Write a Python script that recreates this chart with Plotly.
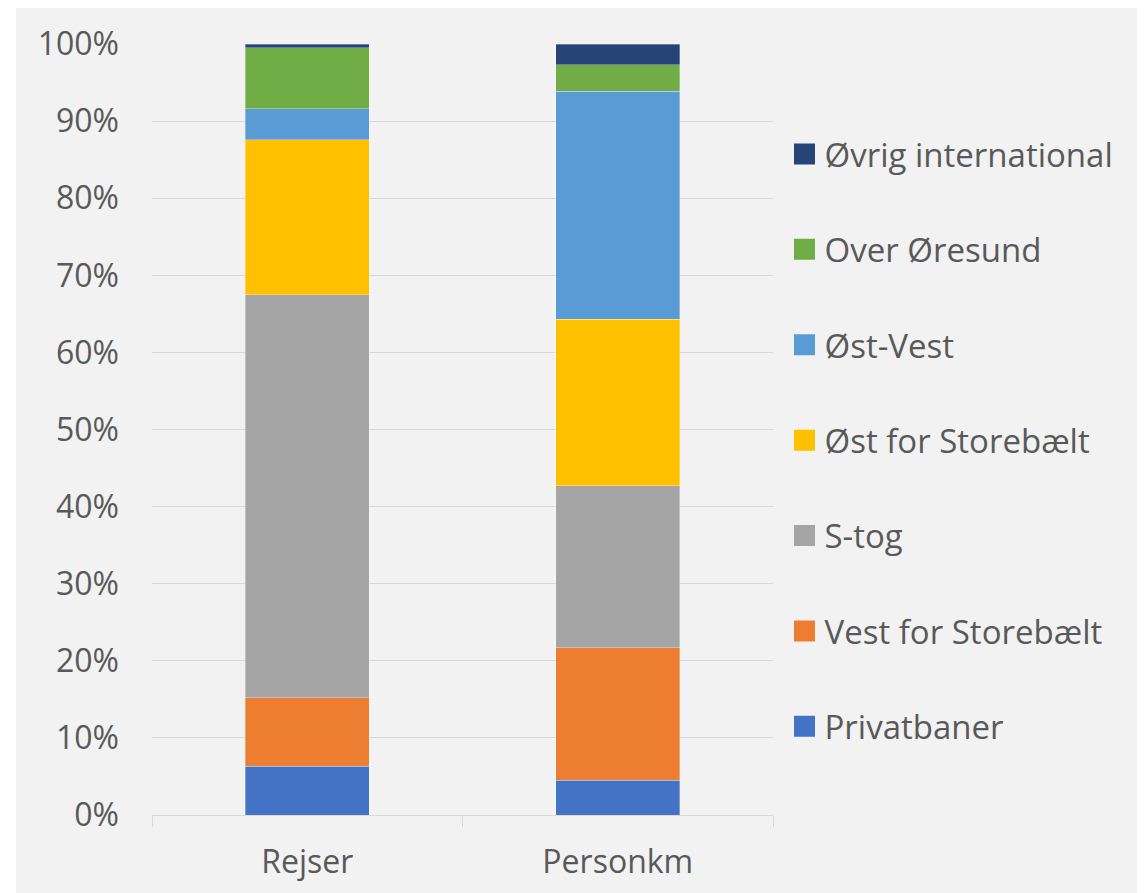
import plotly.graph_objects as go

categories = ["Rejser", "Personkm"]
series_names = ["Privatbaner", "Vest for Storebælt", "S-tog", "Øst for Storebælt",
                "Øst-Vest", "Over Øresund", "Øvrig international"]
privatbaner = [6.3, 4.5]
vest_for_storebaelt = [8.9, 17.2]
s_tog = [52.3, 21.0]
oest_for_storebaelt = [20.1, 21.6]
oest_vest = [4.0, 29.6]
over_oeresund = [7.9, 3.4]
oevrig_international = [0.5, 2.7]
series_values = [privatbaner, vest_for_storebaelt, s_tog, oest_for_storebaelt,
                 oest_vest, over_oeresund, oevrig_international]
colors = ["#4472C4", "#ED7D31", "#A5A5A5", "#FFC000", "#5B9BD5", "#70AD47", "#264478"]
y_ticks = list(range(0, 101, 10))
y_tick_labels = [f"{v}%" for v in y_ticks]

# page body has an 8px margin, so figure coordinates are offset by 8px
OFF = 8
W, H = 1145 - OFF, 893 - OFF
L, R, T, B = 152 - OFF, 773 - OFF, 44 - OFF, 815 - OFF
FONT = "Open Sans"
TXT = "#595959"

fig = go.Figure()
for name, vals, col in zip(series_names, series_values, colors):
    fig.add_trace(go.Bar(x=categories, y=vals, name=name, marker_color=col,
                         marker_line=dict(width=0.7, color="rgba(255,255,255,0.45)"),
                         showlegend=False, hoverinfo="x+y+name"))

# legend proxies (top to bottom order)
for i, (name, col) in enumerate(reversed(list(zip(series_names, colors)))):
    fig.add_trace(go.Scatter(x=[None], y=[None], mode="markers", name=name,
                             legendgroup=f"g{i}",
                             marker=dict(symbol="square", size=16, color=col,
                                         line=dict(color=col, width=5))))

pw = R - L
ph = B - T
def px_x(p):
    return (p - L) / pw
def px_y(p):
    return (B - p) / ph

# extra white strip on the left edge (reference has 16px white border at left)
fig.add_shape(type="rect", xref="paper", yref="paper", x0=px_x(-5), x1=px_x(8),
              y0=px_y(H + 5), y1=px_y(-5), fillcolor="white", line_width=0, layer="below")

fig.update_layout(
    width=W, height=H,
    margin=dict(l=L, r=W - R, t=T, b=H - B, pad=0),
    paper_bgcolor="#F2F2F2", plot_bgcolor="#F2F2F2",
    barmode="stack", bargap=0.6,
    font=dict(family=FONT, size=32, color=TXT),
    legend=dict(x=px_x(784.5 - OFF), xanchor="left", y=px_y(440.5 - OFF), yanchor="middle",
                traceorder="grouped", tracegroupgap=49.5, itemsizing="trace",
                bgcolor="rgba(0,0,0,0)", font=dict(family=FONT, size=33, color=TXT)),
    xaxis=dict(showline=True, linecolor="#D9D9D9", linewidth=1.3, ticks="outside",
               tickson="boundaries", ticklen=11, tickcolor="#D9D9D9", tickwidth=1.3,
               showgrid=False, tickfont=dict(family=FONT, size=32, color=TXT),
               ticklabelstandoff=18),
    yaxis=dict(range=[0, 100], tickvals=y_ticks, ticktext=y_tick_labels,
               showgrid=True, gridcolor="#D9D9D9", gridwidth=1.3, zeroline=False,
               showline=False, ticks="", ticklabelstandoff=32,
               tickfont=dict(family=FONT, size=32, color=TXT)),
)

fig.write_html("out.html")
